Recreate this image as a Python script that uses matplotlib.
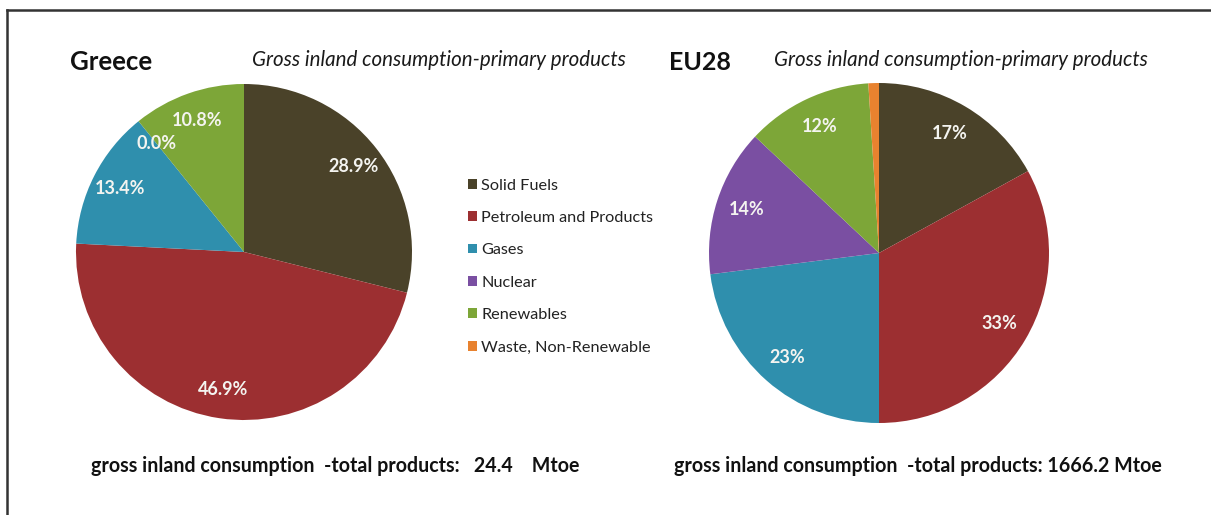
import numpy as np
import matplotlib
matplotlib.use('Agg')
import matplotlib.pyplot as plt
from matplotlib.lines import Line2D

plt.rcParams['font.family'] = ['Lato', 'DejaVu Sans']

# categories and shares (%)
categories = ['Solid Fuels', 'Petroleum and Products', 'Gases', 'Nuclear',
              'Renewables', 'Waste, Non-Renewable']
colors = ['#4a4229', '#9c2f31', '#2f8fad', '#7a4fa2', '#7da638', '#e8822f']

greece_values = [28.9, 46.9, 13.4, 0.0, 10.8, 0.0]
greece_labelled = [True, True, True, True, True, False]
eu_values = [17, 33, 23, 14, 12, 1]
eu_labelled = [True, True, True, True, True, False]

greece_total = '24.4'
eu_total = '1666.2'

W, H = 1211, 515
fig = plt.figure(figsize=(W / 100, H / 100), dpi=100)
fig.patch.set_facecolor('white')


def px_axes(cx, cy, r):
    # axes box from a pixel centre/radius
    return fig.add_axes([(cx - r) / W, (H - cy - r) / H, 2 * r / W, 2 * r / H])


def draw_pie(ax, values, labelled, fmt, dist):
    wedges, _ = ax.pie(values, colors=colors, startangle=90, counterclock=False,
                       radius=1, wedgeprops=dict(linewidth=0))
    for w, v, show in zip(wedges, values, labelled):
        if not show:
            continue
        ang = np.deg2rad((w.theta1 + w.theta2) / 2)
        ax.text(dist * np.cos(ang), dist * np.sin(ang), fmt.format(v),
                ha='center', va='center', color='#f4f4f0', fontsize=13,
                fontweight='bold')
    ax.set_xlim(-1, 1)
    ax.set_ylim(-1, 1)
    ax.set_aspect('equal')
    ax.axis('off')
    return wedges


ax1 = px_axes(244, 252, 168)
wedges = draw_pie(ax1, greece_values, greece_labelled, '{:.1f}%', 0.83)

ax2 = px_axes(879, 253, 170)
draw_pie(ax2, eu_values, eu_labelled, '{:.0f}%', 0.82)

# titles
fig.text(70 / W, 1 - 62 / H, 'Greece', fontsize=18.5, fontweight='bold',
         color='#111111', va='center', ha='left')
fig.text(252 / W, 1 - 60 / H, 'Gross inland consumption-primary products',
         fontsize=14.8, style='italic', color='#1a1a1a', va='center', ha='left')
fig.text(669 / W, 1 - 62 / H, 'EU28', fontsize=18, fontweight='bold',
         color='#111111', va='center', ha='left')
fig.text(774 / W, 1 - 60 / H, 'Gross inland consumption-primary products',
         fontsize=14.8, style='italic', color='#1a1a1a', va='center', ha='left')

# legend in the middle
fig.legend(wedges, categories, loc='upper left',
           bbox_to_anchor=(453 / W, 1 - 164 / H), frameon=False,
           fontsize=11.7, handlelength=0.55, handleheight=0.55, handletextpad=0.3,
           labelspacing=1.13, labelcolor='#222222')

# totals underneath
fig.text(91 / W, 1 - 466 / H,
         'gross inland consumption  -total products:   ' + greece_total + '    Mtoe',
         fontsize=14.1, fontweight='bold', color='#111111', va='center', ha='left')
fig.text(674 / W, 1 - 466 / H,
         'gross inland consumption  -total products: ' + eu_total + ' Mtoe',
         fontsize=14.1, fontweight='bold', color='#111111', va='center', ha='left')

# frame lines (top and left)
fig.add_artist(Line2D([7 / W, 1], [1 - 10 / H, 1 - 10 / H], color='#333333', lw=1.8))
fig.add_artist(Line2D([7 / W, 7 / W], [0, 1 - 10 / H], color='#333333', lw=1.8))

fig.savefig('out.png', dpi=100, facecolor='white')
